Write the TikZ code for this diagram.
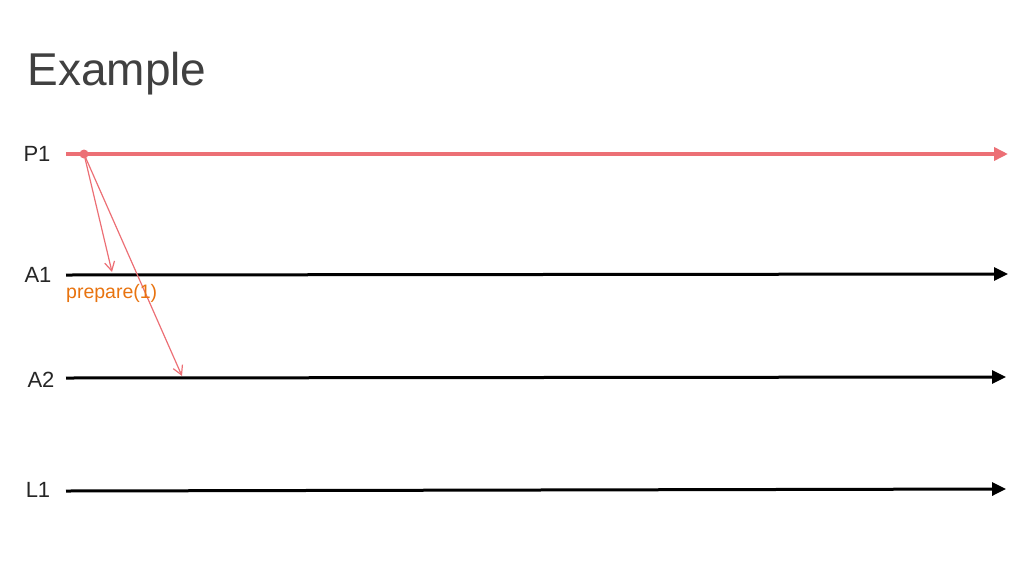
\documentclass[tikz,border=0pt]{standalone}
\usepackage{fontspec}
\setmainfont{Liberation Sans}
\usetikzlibrary{arrows.meta}
\definecolor{pred}{HTML}{EC6F75}
\definecolor{porange}{HTML}{E8730F}
\begin{document}
\begin{tikzpicture}[x=1pt,y=-1pt,
  tl/.style={line width=3pt,-{Triangle[length=14pt,width=13pt]}},
  lab/.style={font=\fontsize{22}{22}\selectfont,text=black!85},
  msg/.style={pred,line width=1.2pt,-{Straight Barb[length=9pt,width=10pt]}}]
\useasboundingbox (0,0) rectangle (1024,576);
\node[anchor=west,font=\fontsize{46}{46}\selectfont,text=black!75] (title) at (24,74) {Example};
\coordinate (p1s) at (66,154); \coordinate (p1e) at (1008,154);
\coordinate (a1s) at (66,275); \coordinate (a1e) at (1008,274);
\coordinate (a2s) at (66,378); \coordinate (a2e) at (1006,377);
\coordinate (l1s) at (66,491); \coordinate (l1e) at (1006,489);
\draw[tl,pred,line width=3.5pt] (p1s) -- (p1e);
\draw[tl] (a1s) -- (a1e);
\draw[tl] (a2s) -- (a2e);
\draw[tl] (l1s) -- (l1e);
\node[lab] (P1) at (37,154) {P1};
\node[lab] (A1) at (38,275) {A1};
\node[lab] (A2) at (41,380) {A2};
\node[lab] (L1) at (38,490) {L1};
\fill[pred] (84,154) circle (4.5pt) coordinate (d);
\coordinate (m1) at (112,272); \coordinate (m2) at (182,376);
\draw[msg] (d) -- (m1);
\draw[msg] (d) -- (m2);
\node[anchor=west,font=\fontsize{19.5}{19.5}\selectfont,text=porange,inner sep=0] (prep) at (66,293) {prepare(1)};
\end{tikzpicture}
\end{document}
